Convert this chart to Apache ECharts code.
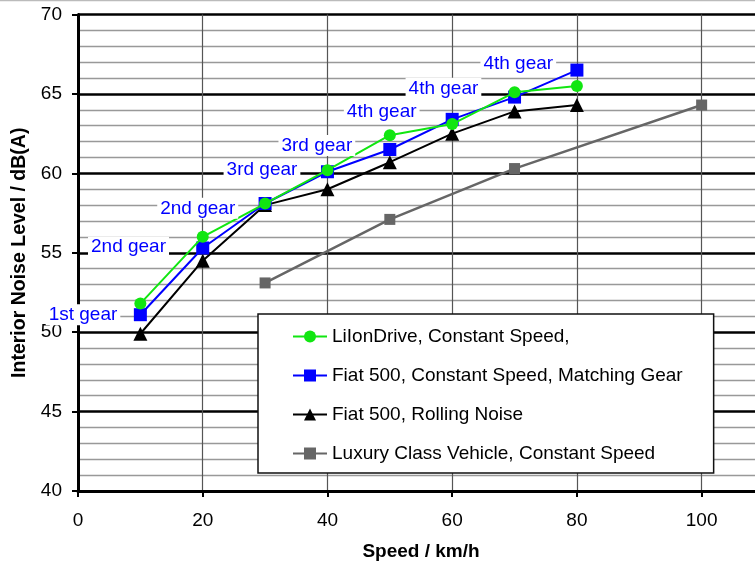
<!DOCTYPE html>
<html>
<head>
<meta charset="utf-8">
<script src="https://cdn.jsdelivr.net/npm/echarts@6/dist/echarts.min.js"></script>
<style>
  html, body { margin: 0; padding: 0; background: #fff; }
  #chart { width: 755px; height: 564px; }
</style>
</head>
<body>
<div id="chart"></div>
<script>
// Interior noise level against vehicle speed
const speeds = [10, 20, 30, 40, 50, 60, 70, 80];
const liIonDrive = [51.8, 56.0, 58.1, 60.2, 62.4, 63.1, 65.1, 65.5];
const fiatMatchingGear = [51.1, 55.3, 58.1, 60.1, 61.5, 63.4, 64.8, 66.5];
const fiatRolling = [49.9, 54.5, 58.0, 59.0, 60.7, 62.5, 63.9, 64.3];
const luxurySpeeds = [30, 50, 70, 100];
const luxuryVehicle = [53.1, 57.1, 60.3, 64.3];

const seriesNames = [
  'LiIonDrive, Constant Speed,',
  'Fiat 500, Constant Speed, Matching Gear',
  'Fiat 500, Rolling Noise',
  'Luxury Class Vehicle, Constant Speed'
];

// Gear annotations (placed in speed / dB coordinates)
const gearLabels = ['1st gear', '2nd gear', '2nd gear', '3rd gear', '3rd gear', '4th gear', '4th gear', '4th gear'];
const gearX = [0.8, 8.1, 19.2, 29.5, 38.3, 48.7, 58.6, 70.6];
const gearY = [51.1, 55.35, 57.8, 60.2, 61.75, 63.85, 65.35, 66.9];

const xTickLabels = [0, 20, 40, 60, 80, 100];

const FONT = '"Liberation Sans", Arial, sans-serif';

function pairs(xs, ys) { return xs.map((x, i) => [x, ys[i]]); }

const chart = echarts.init(document.getElementById('chart'), null, { renderer: 'canvas' });

chart.setOption({
  animation: false,
  backgroundColor: '#fff',
  textStyle: { fontFamily: FONT },
  // the speed axis runs on to 110 km/h, past the right edge of the canvas
  grid: { left: 78, top: 14.5, height: 476.5, width: 686, outerBoundsMode: 'none', containLabel: false },
  graphic: [{
    type: 'line',
    shape: { x1: 0, y1: 0.5, x2: 755, y2: 0.5 },
    style: { stroke: '#bbb', lineWidth: 1.5 },
    silent: true
  }],
  legend: {
    orient: 'vertical',
    left: 258,
    top: 314,
    data: seriesNames,
    backgroundColor: '#fff',
    borderColor: '#111',
    borderWidth: 1.5,
    padding: [13, 31, 10, 34],
    itemWidth: 34,
    itemHeight: 15,
    itemGap: 20,
    selectedMode: false,
    textStyle: { fontFamily: FONT, fontSize: 19, color: '#000' }
  },
  xAxis: {
    type: 'value',
    min: 0, max: 110, interval: 20,
    name: 'Speed / km/h',
    nameLocation: 'middle',
    nameGap: 51,
    nameTextStyle: { fontFamily: FONT, fontSize: 19, fontWeight: 'bold', color: '#000' },
    axisLine: { show: true, onZero: false, lineStyle: { color: '#000', width: 3 } },
    axisTick: { show: true, length: 6, lineStyle: { color: '#000', width: 2 } },
    axisLabel: {
      margin: 20, fontSize: 19, color: '#000', fontFamily: FONT,
      formatter: v => (xTickLabels.indexOf(v) >= 0 ? String(v) : '')
    },
    splitLine: { show: true, lineStyle: { color: '#555', width: 1.2 } }
  },
  yAxis: {
    type: 'value',
    min: 40, max: 70, interval: 5,
    name: 'Interior Noise Level / dB(A)',
    nameLocation: 'middle',
    nameGap: 42,
    nameTextStyle: { fontFamily: FONT, fontSize: 19.5, fontWeight: 'bold', color: '#000' },
    axisLine: { show: true, lineStyle: { color: '#000', width: 3 } },
    axisTick: { show: true, length: 6, lineStyle: { color: '#000', width: 2 } },
    axisLabel: { margin: 16, fontSize: 19, color: '#000', fontFamily: FONT },
    splitLine: { show: true, lineStyle: { color: '#000', width: 2.6 } },
    minorTick: { show: false, splitNumber: 5 },
    minorSplitLine: { show: true, lineStyle: { color: '#999', width: 1.3 } }
  },
  series: [
    {
      name: seriesNames[3], type: 'line', data: pairs(luxurySpeeds, luxuryVehicle),
      symbol: 'rect', symbolSize: 11, z: 3,
      lineStyle: { color: '#666', width: 2.5 }, itemStyle: { color: '#666' }
    },
    {
      name: seriesNames[2], type: 'line', data: pairs(speeds, fiatRolling),
      symbol: 'triangle', symbolSize: 14, z: 4,
      lineStyle: { color: '#000', width: 2 }, itemStyle: { color: '#000' }
    },
    {
      name: seriesNames[1], type: 'line', data: pairs(speeds, fiatMatchingGear),
      symbol: 'rect', symbolSize: 13, z: 5,
      lineStyle: { color: '#0000ff', width: 2 }, itemStyle: { color: '#0000ff' }
    },
    {
      name: seriesNames[0], type: 'line', data: pairs(speeds, liIonDrive),
      symbol: 'circle', symbolSize: 12, z: 6,
      lineStyle: { color: '#11e611', width: 2 }, itemStyle: { color: '#11e611' }
    },
    {
      // gear annotations as text boxes on a white background
      name: 'gears', type: 'custom', z: 7, silent: true,
      data: gearX.map((x, i) => [x, gearY[i], i]),
      renderItem: (params, api) => {
        const p = api.coord([api.value(0), api.value(1)]);
        return {
          type: 'text',
          x: p[0], y: p[1],
          style: {
            text: gearLabels[api.value(2)],
            fill: '#0000ff',
            font: '19px ' + FONT,
            align: 'center',
            verticalAlign: 'middle',
            backgroundColor: '#fff',
            padding: [1, 3]
          }
        };
      }
    }
  ]
});
</script>
</body>
</html>
